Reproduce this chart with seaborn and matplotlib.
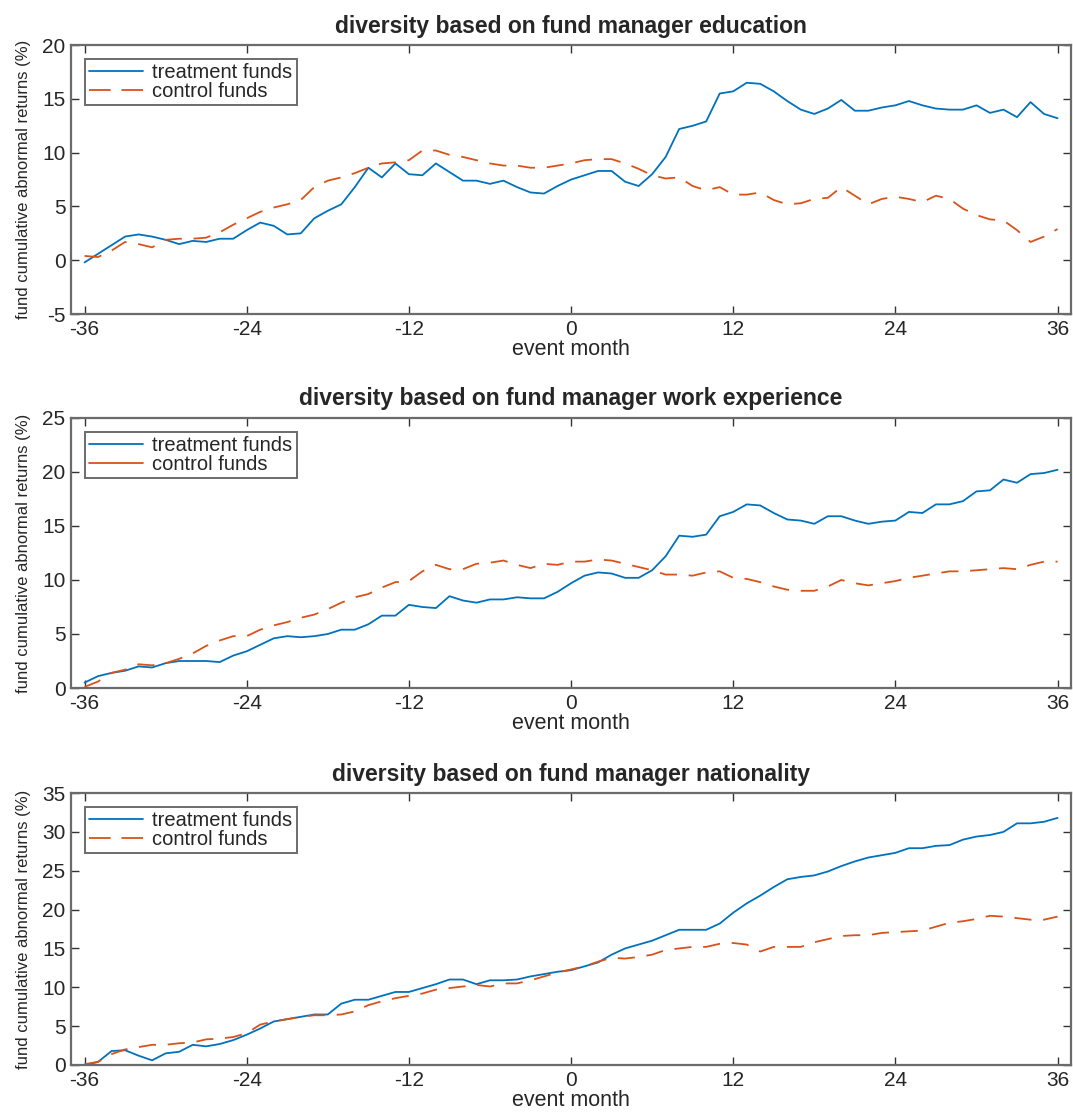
import numpy as np
import seaborn as sns
import matplotlib.pyplot as plt
from matplotlib.lines import Line2D

# event months -36 .. 36
months = np.arange(-36, 37)

# panel 1: education
edu_treat = [-0.2, 0.6, 1.4, 2.2, 2.4, 2.2, 1.9, 1.5, 1.8, 1.7, 2.0, 2.0, 2.8, 3.5, 3.2, 2.4, 2.5, 3.9,
             4.6, 5.2, 6.8, 8.6, 7.7, 9.0, 8.0, 7.9, 9.0, 8.2, 7.4, 7.4, 7.1, 7.4, 6.8, 6.3, 6.2, 6.9,
             7.5, 7.9, 8.3, 8.3, 7.3, 6.9, 8.0, 9.6, 12.2, 12.5, 12.9, 15.5, 15.7, 16.5, 16.4, 15.7, 14.8,
             14.0, 13.6, 14.1, 14.9, 13.9, 13.9, 14.2, 14.4, 14.8, 14.4, 14.1, 14.0, 14.0, 14.4, 13.7,
             14.0, 13.3, 14.7, 13.6, 13.2]
edu_ctrl = [0.4, 0.3, 0.9, 1.7, 1.5, 1.2, 1.9, 2.0, 2.0, 2.1, 2.6, 3.3, 3.9, 4.5, 4.9, 5.2, 5.6, 6.8,
            7.4, 7.7, 8.1, 8.6, 9.0, 9.1, 9.3, 10.2, 10.2, 9.8, 9.6, 9.3, 9.0, 8.8, 8.8, 8.6, 8.6, 8.8,
            9.0, 9.3, 9.4, 9.4, 9.0, 8.5, 7.9, 7.6, 7.7, 6.9, 6.5, 6.8, 6.1, 6.1, 6.3, 5.6, 5.2, 5.3,
            5.7, 5.8, 6.8, 6.0, 5.2, 5.7, 5.9, 5.7, 5.4, 6.0, 5.7, 4.8, 4.2, 3.8, 3.7, 2.8, 1.7, 2.2, 2.9]

# panel 2: work experience
work_treat = [0.5, 1.1, 1.4, 1.6, 2.0, 1.9, 2.3, 2.5, 2.5, 2.5, 2.4, 3.0, 3.4, 4.0, 4.6, 4.8, 4.7, 4.8,
              5.0, 5.4, 5.4, 5.9, 6.7, 6.7, 7.7, 7.5, 7.4, 8.5, 8.1, 7.9, 8.2, 8.2, 8.4, 8.3, 8.3, 8.9,
              9.7, 10.4, 10.7, 10.6, 10.2, 10.2, 10.9, 12.2, 14.1, 14.0, 14.2, 15.9, 16.3, 17.0, 16.9,
              16.2, 15.6, 15.5, 15.2, 15.9, 15.9, 15.5, 15.2, 15.4, 15.5, 16.3, 16.2, 17.0, 17.0, 17.3,
              18.2, 18.3, 19.3, 19.0, 19.8, 19.9, 20.2]
work_ctrl = [0.1, 0.6, 1.4, 1.7, 2.2, 2.1, 2.3, 2.7, 3.2, 3.9, 4.4, 4.8, 4.8, 5.4, 5.8, 6.1, 6.5, 6.8,
             7.3, 7.9, 8.4, 8.7, 9.3, 9.8, 9.9, 10.8, 11.4, 11.0, 11.0, 11.5, 11.6, 11.8, 11.4, 11.1,
             11.5, 11.4, 11.7, 11.7, 11.9, 11.8, 11.5, 11.2, 10.9, 10.5, 10.5, 10.4, 10.7, 10.8, 10.2,
             10.1, 9.8, 9.4, 9.1, 9.0, 9.0, 9.4, 10.0, 9.7, 9.5, 9.7, 9.9, 10.2, 10.4, 10.6, 10.8, 10.8,
             10.9, 11.0, 11.1, 11.0, 11.4, 11.7, 11.7]

# panel 3: nationality
nat_treat = [0.0, 0.4, 1.8, 1.9, 1.2, 0.6, 1.5, 1.7, 2.6, 2.4, 2.7, 3.2, 3.9, 4.7, 5.6, 5.9, 6.2, 6.5,
             6.5, 7.9, 8.4, 8.4, 8.9, 9.4, 9.4, 9.9, 10.4, 11.0, 11.0, 10.4, 10.9, 10.9, 11.0, 11.4, 11.7,
             12.0, 12.2, 12.7, 13.2, 14.2, 15.0, 15.5, 16.0, 16.7, 17.4, 17.4, 17.4, 18.2, 19.6, 20.8,
             21.8, 22.9, 23.9, 24.2, 24.4, 24.9, 25.6, 26.2, 26.7, 27.0, 27.3, 27.9, 27.9, 28.2, 28.3,
             29.0, 29.4, 29.6, 30.0, 31.1, 31.1, 31.3, 31.8]
nat_ctrl = [0.1, 0.4, 1.4, 2.0, 2.3, 2.6, 2.6, 2.8, 2.9, 3.3, 3.4, 3.6, 4.1, 5.2, 5.6, 5.9, 6.2, 6.4,
            6.4, 6.5, 6.9, 7.7, 8.2, 8.6, 8.9, 9.2, 9.7, 9.9, 10.1, 10.3, 10.1, 10.5, 10.5, 10.9, 11.4,
            11.9, 12.3, 12.7, 13.3, 13.8, 13.7, 13.9, 14.2, 14.8, 15.0, 15.2, 15.2, 15.6, 15.7, 15.5,
            14.6, 15.2, 15.2, 15.2, 15.8, 16.2, 16.6, 16.7, 16.7, 17.0, 17.1, 17.2, 17.3, 17.8, 18.3,
            18.5, 18.8, 19.2, 19.1, 18.9, 18.7, 18.7, 19.1]

titles = ["diversity based on fund manager education",
          "diversity based on fund manager work experience",
          "diversity based on fund manager nationality"]
ylims = [(-5, 20), (0, 25), (0, 35)]
xticks = [-36, -24, -12, 0, 12, 24, 36]

sns.set_style("ticks")
plt.rcParams['font.family'] = ['Liberation Sans', 'DejaVu Sans']
plt.rcParams['axes.unicode_minus'] = False

blue = '#0072BD'
orange = '#D95319'
dash = (0, (9.5, 6.5))
leg_dash = (0, (12, 6))
frame = '#6b6b6b'

fig = plt.figure(figsize=(10.73, 11.16), dpi=100)
boxes = [[0.0662, 0.7186, 0.932, 0.241],
         [0.0662, 0.3835, 0.932, 0.242],
         [0.0662, 0.0457, 0.932, 0.2437]]
series = [(edu_treat, edu_ctrl), (work_treat, work_ctrl), (nat_treat, nat_ctrl)]

for i in range(3):
    ax = fig.add_axes(boxes[i])
    treat, ctrl = series[i]
    sns.lineplot(x=months, y=treat, color=blue, lw=1.3, ax=ax)
    sns.lineplot(x=months, y=ctrl, color=orange, lw=1.3, linestyle=dash, ax=ax)

    ax.set_xlim(-37, 37)
    ax.set_ylim(*ylims[i])
    ax.set_xticks(xticks)
    ax.set_yticks(np.arange(ylims[i][0], ylims[i][1] + 1, 5))
    ax.tick_params(direction='in', length=6, width=1, top=True, right=True,
                   labelsize=15, color='#333333', labelcolor='#262626', pad=4)
    for s in ax.spines.values():
        s.set_color(frame)
        s.set_linewidth(1.6)

    ax.set_title(titles[i], fontsize=16.5, fontweight='bold', pad=9)
    ax.set_xlabel('event month', fontsize=15.5, labelpad=0, color='#262626')
    ax.set_ylabel('fund cumulative abnormal returns (%)', fontsize=12, labelpad=8, color='#262626')

    # second panel legend shows a solid control line
    ctrl_ls = '-' if i == 1 else leg_dash
    handles = [Line2D([], [], color=blue, lw=1.3),
               Line2D([], [], color=orange, lw=1.3, linestyle=ctrl_ls)]
    leg = ax.legend(handles, ['treatment funds', 'control funds'], loc='upper left',
                    fontsize=14.5, handlelength=2.69, handletextpad=0.45, labelspacing=0.0,
                    borderpad=0.2, borderaxespad=0.7, fancybox=False, framealpha=1)
    leg.get_frame().set_edgecolor(frame)
    leg.get_frame().set_linewidth(1.4)

plt.savefig('out.png', dpi=100)
